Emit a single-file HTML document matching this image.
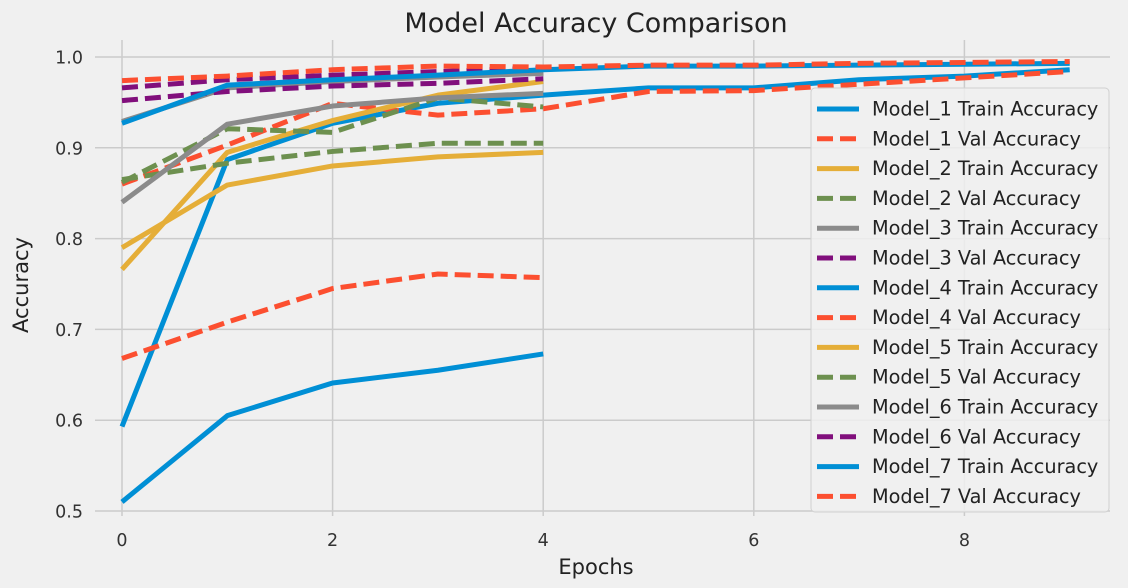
<!DOCTYPE html>
<html><head><meta charset="utf-8"><style>
body{margin:0;background:#f0f0f0;}
svg{display:block;font-family:"DejaVu Sans","Liberation Sans",sans-serif;}
</style></head><body>
<svg id="chart" width="1128" height="588" xmlns="http://www.w3.org/2000/svg">
<rect width="1128" height="588" fill="#f0f0f0"/>
<text x="596" y="32" font-size="27" text-anchor="middle" fill="#222">Model Accuracy Comparison</text>
<text x="596" y="574" font-size="21" text-anchor="middle" fill="#222">Epochs</text>
<text x="28" y="285" font-size="21" text-anchor="middle" fill="#222" transform="rotate(-90 28 285)">Accuracy</text>
<g id="grid"></g>
<g id="ticks"></g>
<g id="series"></g>
<g id="legend"></g>
</svg>
<script>
const xTicks=[0,2,4,6,8];
const yTicks=[0.5,0.6,0.7,0.8,0.9,1.0];
const yTickLabels=["0.5","0.6","0.7","0.8","0.9","1.0"];
const seriesNames=["Model_1 Train Accuracy","Model_1 Val Accuracy","Model_2 Train Accuracy","Model_2 Val Accuracy","Model_3 Train Accuracy","Model_3 Val Accuracy","Model_4 Train Accuracy","Model_4 Val Accuracy","Model_5 Train Accuracy","Model_5 Val Accuracy","Model_6 Train Accuracy","Model_6 Val Accuracy","Model_7 Train Accuracy","Model_7 Val Accuracy"];
const m1Train=[0.593,0.887,0.927,0.949,0.958,0.966,0.966,0.975,0.979,0.986];
const m1Val=[0.86,0.903,0.949,0.936,0.943,0.962,0.963,0.97,0.977,0.984];
const m2Train=[0.766,0.895,0.93,0.958,0.973];
const m2Val=[0.862,0.921,0.917,0.955,0.945];
const m3Train=[0.929,0.966,0.973,0.978,0.982];
const m3Val=[0.952,0.962,0.968,0.971,0.976];
const m4Train=[0.51,0.605,0.641,0.655,0.673];
const m4Val=[0.668,0.708,0.745,0.761,0.757];
const m5Train=[0.79,0.859,0.88,0.89,0.895];
const m5Val=[0.865,0.883,0.896,0.905,0.905];
const m6Train=[0.84,0.926,0.946,0.955,0.96];
const m6Val=[0.966,0.975,0.98,0.984,0.988];
const m7Train=[0.927,0.969,0.975,0.98,0.986,0.99,0.99,0.991,0.992,0.993];
const m7Val=[0.974,0.979,0.986,0.99,0.989,0.991,0.991,0.993,0.994,0.995];
const allSeries=[m1Train,m1Val,m2Train,m2Val,m3Train,m3Val,m4Train,m4Val,m5Train,m5Val,m6Train,m6Val,m7Train,m7Val];
const colors=["#008fd5","#fc4f30","#e5ae38","#6d904f","#8b8b8b","#810f7c"];
const pairColors=[[0,1],[2,3],[4,5],[0,1],[2,3],[4,5],[0,1]];
const NS="http://www.w3.org/2000/svg";
const L=95,R=1110,T=40,B=516;
const xs=e=>122+105.3*e;
const ys=v=>57+(1-v)*908;
function mk(tag,attrs,parent){const el=document.createElementNS(NS,tag);for(const k in attrs)el.setAttribute(k,attrs[k]);parent.appendChild(el);return el;}
const grid=document.getElementById('grid'),ticks=document.getElementById('ticks'),series=document.getElementById('series'),legend=document.getElementById('legend');
xTicks.forEach(t=>{const l=mk('line',{x1:xs(t),x2:xs(t),y1:T,y2:B,stroke:'#cbcbcb','stroke-width':1.5},grid);


const tx=mk('text',{x:xs(t),y:546,'font-size':17.5,'text-anchor':'middle',fill:'#333'},ticks);tx.textContent=t;

});
yTicks.forEach((t,i)=>{const l=mk('line',{x1:L,x2:R,y1:ys(t),y2:ys(t),stroke:'#cbcbcb','stroke-width':1.5},grid);


const tx=mk('text',{x:83,y:ys(t)+6.5,'font-size':17.5,'text-anchor':'end',fill:'#333'},ticks);tx.textContent=yTickLabels[i];

});
allSeries.forEach((d,i)=>{const c=colors[pairColors[Math.floor(i/2)][i%2]];const dashed=i%2===1;
const p=mk('polyline',{points:d.map((v,e)=>xs(e)+','+ys(v)).join(' '),fill:'none',stroke:c,'stroke-width':5,'stroke-linejoin':'round'},series);
if(dashed)p.setAttribute('stroke-dasharray','16,7');

});
const box=mk('rect',{x:811,y:88,width:298,height:424,rx:4,fill:'#f0f0f0','fill-opacity':0.85,stroke:'#d0d0d0'},legend);


seriesNames.forEach((n,i)=>{const y=109+i*29.8;const c=colors[pairColors[Math.floor(i/2)][i%2]];
const ln=mk('line',{x1:817,x2:859,y1:y,y2:y,stroke:c,'stroke-width':5},legend);
if(i%2===1)ln.setAttribute('stroke-dasharray','16,7');


const tx=mk('text',{x:872,y:y+6.5,'font-size':19.3,fill:'#222'},legend);tx.textContent=n;

});
</script>
</body></html>
